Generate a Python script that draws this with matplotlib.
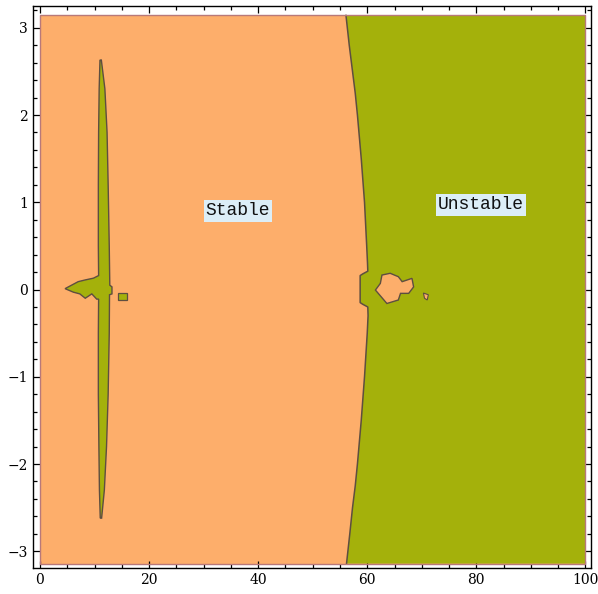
import matplotlib
matplotlib.use("Agg")
import matplotlib.pyplot as plt
from matplotlib.patches import Polygon, Rectangle
from matplotlib.ticker import MultipleLocator
import numpy as np

# ---- data ----
x_range = [0, 100]
y_range = [-3.14159, 3.14159]

# stable / unstable boundary (x as function of y, top to bottom)
boundary_y = [3.1416, 2.8, 2.5, 2.25, 2.0, 1.75, 1.5, 1.25, 1.0, 0.75, 0.5, 0.3, 0.21, 0.18, 0.16,
              -0.15, -0.17, -0.20, -0.3, -0.5, -0.75, -1.0, -1.25, -1.5, -1.75, -2.0, -2.25, -2.5, -2.8, -3.1416]
boundary_x = [56.1, 56.7, 57.3, 57.8, 58.2, 58.55, 58.9, 59.2, 59.5, 59.7, 59.9, 60.05, 60.1, 59.2, 58.7,
              58.7, 59.2, 60.1, 60.15, 60.0, 59.75, 59.5, 59.2, 58.9, 58.55, 58.2, 57.8, 57.3, 56.8, 56.2]

# unstable spindle near x ~ 11 with the arrow-shaped lobe
spindle_x = [11.0, 10.85, 10.75, 10.7, 10.7, 10.75,
             9.8, 8.3, 7.0, 5.8, 4.6,
             6.1, 7.3, 8.3, 9.5, 10.4, 10.75,
             10.7, 10.7, 10.8, 10.9, 11.05,
             11.3, 11.8, 12.2, 12.5, 12.7, 12.75, 13.2, 13.2, 12.8, 12.7, 12.5, 12.3, 11.9, 11.25]
spindle_y = [2.63, 2.3, 1.8, 1.2, 0.5, 0.16,
             0.13, 0.11, 0.09, 0.05, 0.01,
             -0.03, -0.05, -0.10, -0.05, -0.11, -0.11,
             -0.5, -1.2, -1.8, -2.3, -2.62,
             -2.62, -2.3, -1.8, -1.2, -0.5, -0.06, -0.05, 0.03, 0.05, 0.5, 1.2, 1.8, 2.3, 2.63]

# small unstable square right of the spindle
square_x = [14.3, 16.0, 16.0, 14.3]
square_y = [-0.04, -0.04, -0.12, -0.12]

# stable island inside the unstable region
island_x = [62.7, 64.2, 65.7, 66.4, 68.2, 68.5, 67.6, 66.1, 65.7, 63.6, 61.5, 62.4]
island_y = [0.166, 0.186, 0.147, 0.09, 0.128, 0.03, -0.044, -0.044, -0.12, -0.16, -0.006, 0.07]

# tiny stable speck
speck_x = [70.3, 71.2, 71.0, 70.5]
speck_y = [-0.04, -0.06, -0.12, -0.10]

labels = ["Stable", "Unstable"]
label_x = [36.3, 80.9]
label_y = [0.90, 0.97]

# ---- style ----
stable_col = "#FDAE6B"
unstable_col = "#A4B10B"
edge_col = "#5E4E40"

fig = plt.figure(figsize=(5.98, 5.94), dpi=100)
ax = fig.add_axes([0.055, 0.044, 0.934, 0.946])

# stable background
ax.add_patch(Rectangle((x_range[0], y_range[0]), x_range[1] - x_range[0], y_range[1] - y_range[0],
                       facecolor=stable_col, edgecolor="none", zorder=1))

# unstable region right of the boundary
ux = boundary_x + [x_range[1], x_range[1]]
uy = boundary_y + [y_range[0], y_range[1]]
ax.add_patch(Polygon(np.column_stack([ux, uy]), closed=True, facecolor=unstable_col,
                     edgecolor="none", zorder=2))
ax.plot(boundary_x, boundary_y, color=edge_col, lw=1.1, zorder=3)

ax.add_patch(Polygon(np.column_stack([spindle_x, spindle_y]), closed=True, facecolor=unstable_col,
                     edgecolor=edge_col, lw=1.0, zorder=3))
ax.add_patch(Polygon(np.column_stack([square_x, square_y]), closed=True, facecolor=unstable_col,
                     edgecolor=edge_col, lw=0.9, zorder=3))
ax.add_patch(Polygon(np.column_stack([island_x, island_y]), closed=True, facecolor=stable_col,
                     edgecolor=edge_col, lw=1.0, zorder=3))
ax.add_patch(Polygon(np.column_stack([speck_x, speck_y]), closed=True, facecolor=stable_col,
                     edgecolor=edge_col, lw=0.8, zorder=3))

# outline of the plotted domain
ax.add_patch(Rectangle((x_range[0], y_range[0]), x_range[1] - x_range[0], y_range[1] - y_range[0],
                       facecolor="none", edgecolor="#B8797A", lw=1.0, zorder=4))

for t, lx, ly in zip(labels, label_x, label_y):
    ax.text(lx, ly, t, family="Liberation Mono", fontsize=13, ha="center", va="center",
            color="#111111", zorder=5,
            bbox=dict(boxstyle="square,pad=0.12", facecolor="#DCEEF7", edgecolor="none"))

ax.set_xlim(-1.3, 101.1)
ax.set_ylim(-3.19, 3.25)

ax.xaxis.set_major_locator(MultipleLocator(20))
ax.xaxis.set_minor_locator(MultipleLocator(5))
ax.yaxis.set_major_locator(MultipleLocator(1))
ax.yaxis.set_minor_locator(MultipleLocator(0.2))
ax.tick_params(which="both", direction="in", top=True, right=True, labeltop=False, labelright=False,
               width=0.9, colors="black")
ax.tick_params(which="major", length=5)
ax.tick_params(which="minor", length=3)
for lab in ax.get_xticklabels() + ax.get_yticklabels():
    lab.set_family("DejaVu Serif")
    lab.set_fontsize(10)
for s in ax.spines.values():
    s.set_linewidth(1.0)
    s.set_color("black")

fig.savefig("out.png", dpi=100)
